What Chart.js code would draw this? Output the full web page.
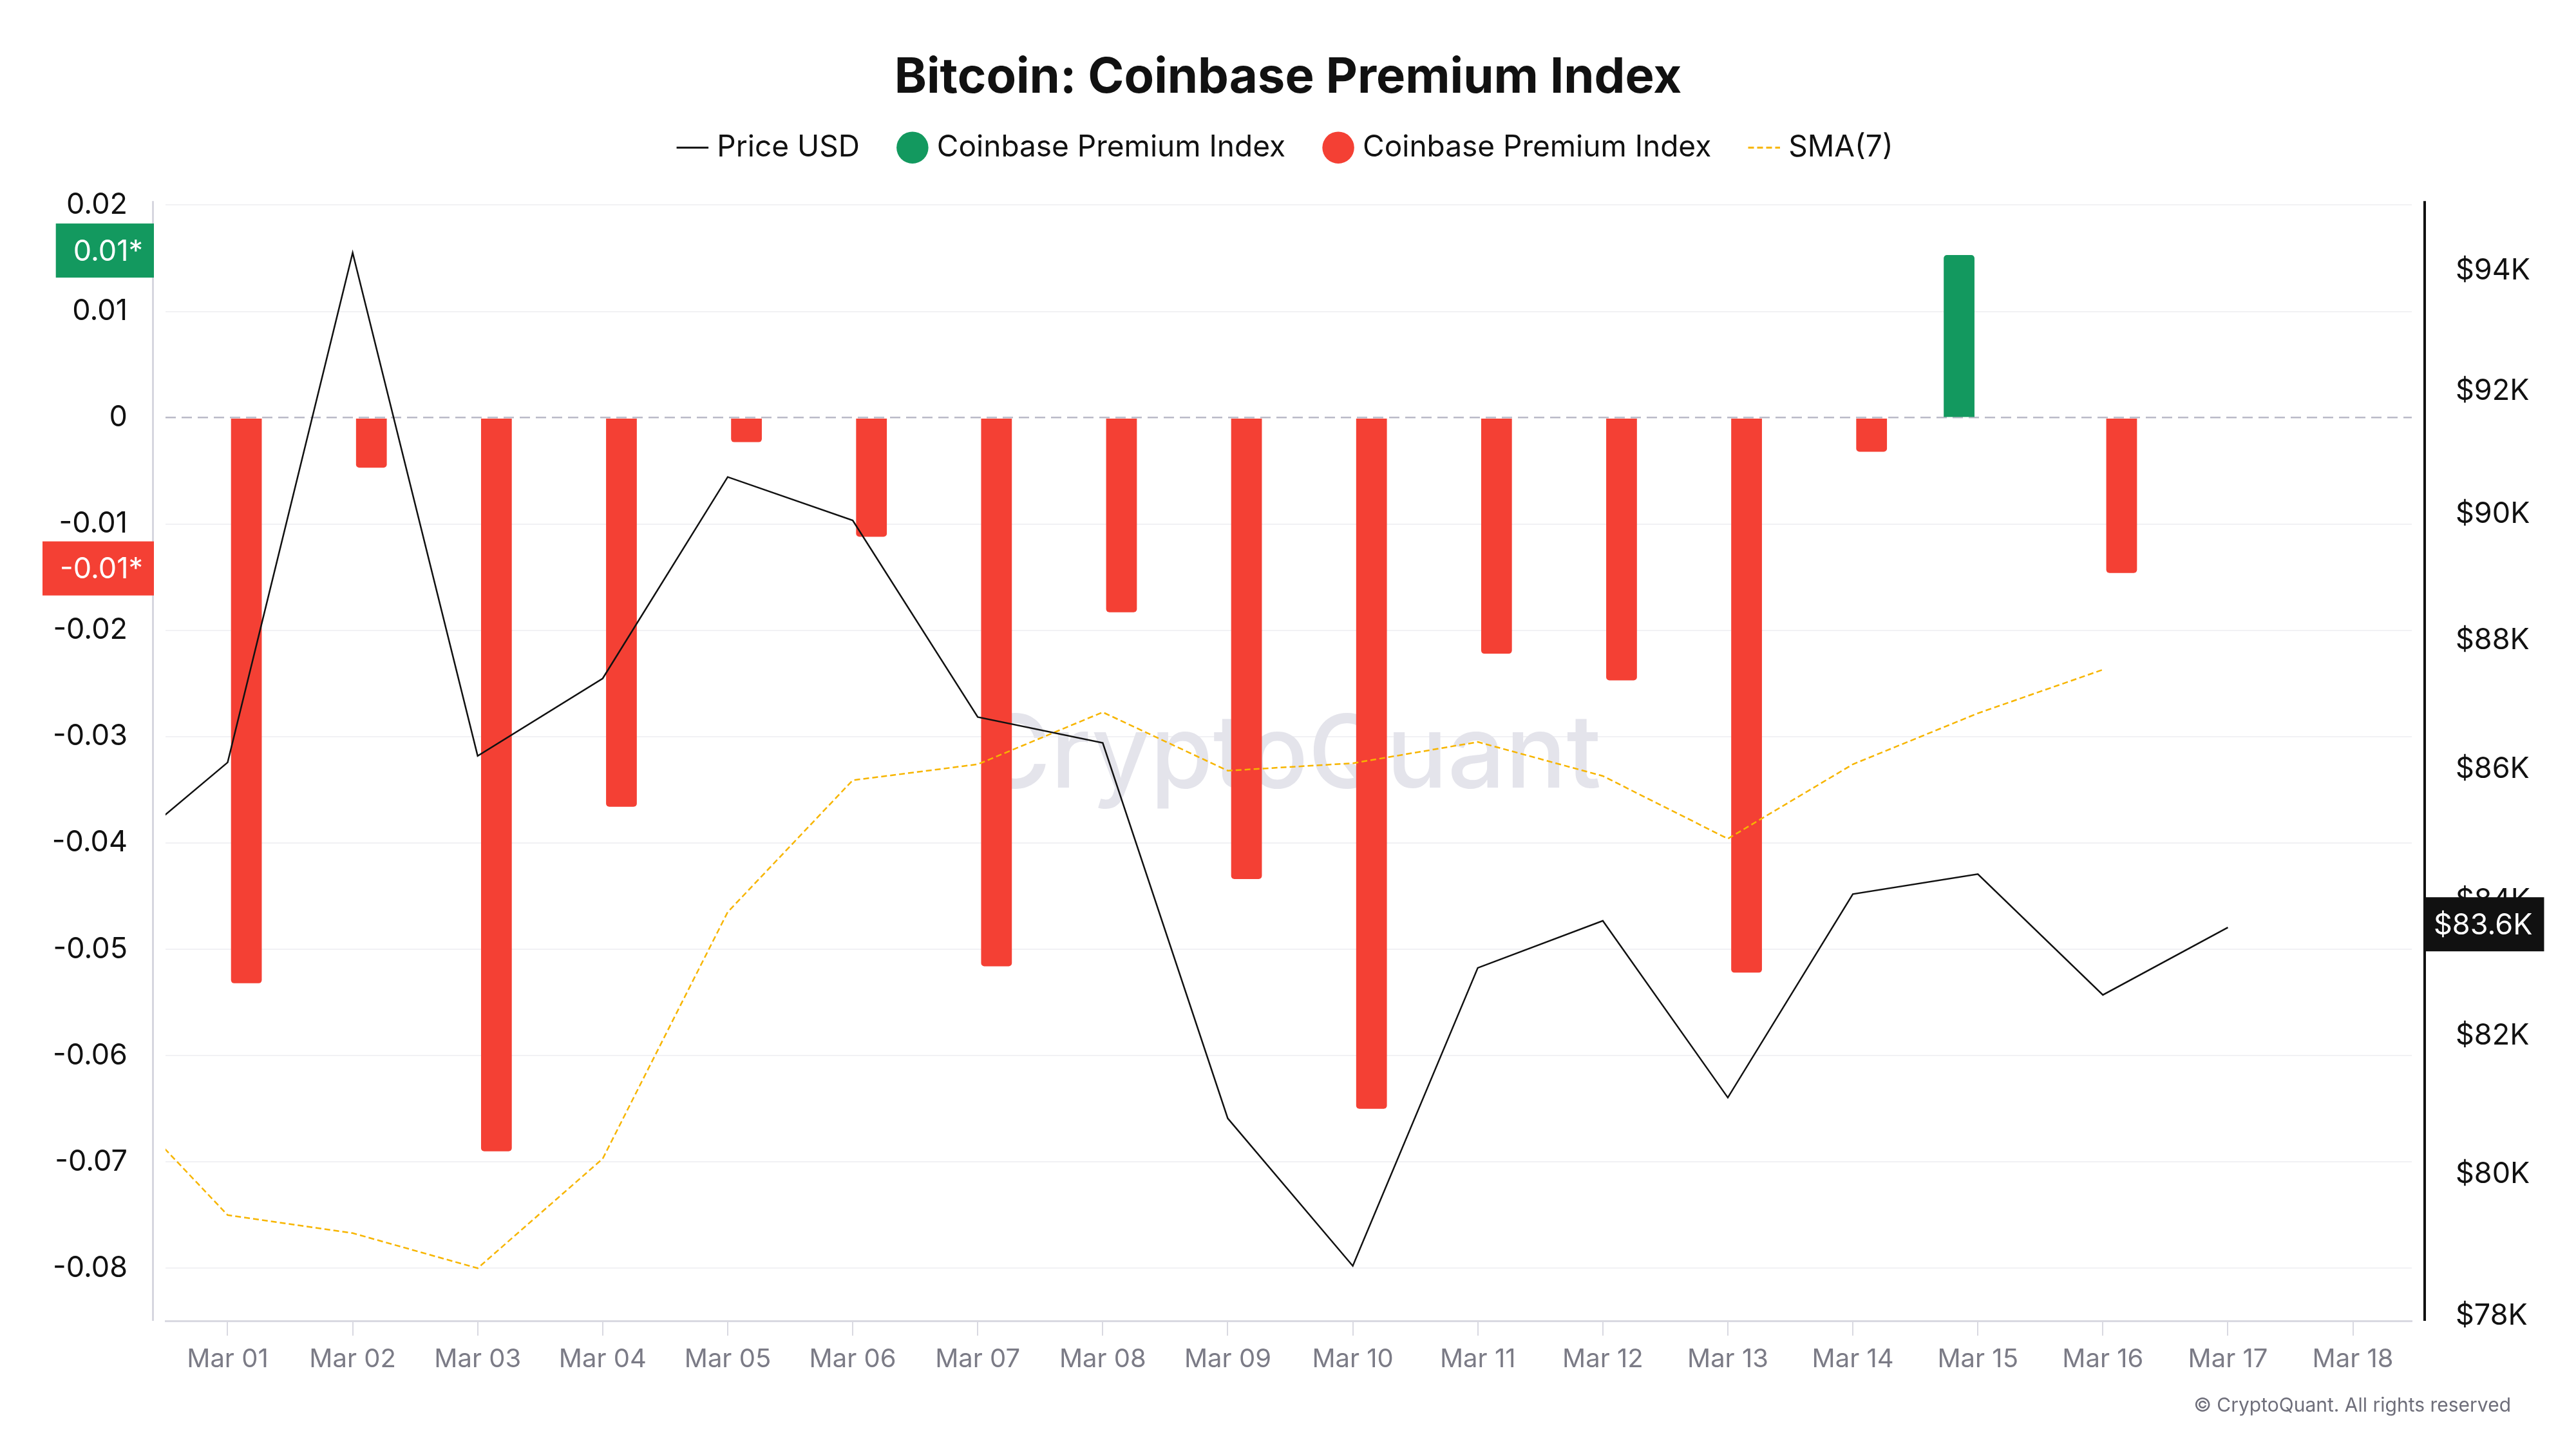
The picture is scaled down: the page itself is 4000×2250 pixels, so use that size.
<!DOCTYPE html>
<html>
<head>
<meta charset="utf-8">
<title>Bitcoin: Coinbase Premium Index</title>
<script src="https://cdn.jsdelivr.net/npm/chart.js@4.4.1/dist/chart.umd.min.js"></script>
<style>
  html, body { margin: 0; padding: 0; background: #fff; }
  #wrap { width: 4000px; height: 2250px; position: relative; }
</style>
</head>
<body>
<div id="wrap"><canvas id="premiumChart"></canvas></div>
<script>
// fechas: indice 0 = Feb 28 (queda fuera del area visible, solo da el arranque de las lineas)
const dates = ['Feb 28', 'Mar 01', 'Mar 02', 'Mar 03', 'Mar 04', 'Mar 05', 'Mar 06', 'Mar 07', 'Mar 08', 'Mar 09',
               'Mar 10', 'Mar 11', 'Mar 12', 'Mar 13', 'Mar 14', 'Mar 15', 'Mar 16', 'Mar 17', 'Mar 18'];

// precio BTC en USD
const priceUsd = [84500, 86100, 94300, 86200, 87400, 90600, 89900, 86800, 86400, 80800,
                  78700, 83000, 83700, 81100, 84100, 84400, 82600, 83600];

// coinbase premium index diario
const premiumIndex = [null, -0.0532, -0.0047, -0.0690, -0.0366, -0.0023, -0.0112, -0.0516, -0.0183, -0.0434,
                      -0.0650, -0.0222, -0.0247, -0.0522, -0.0032, 0.0153, -0.0146];

// media movil de 7 dias del premium
const sma7 = [-0.0626, -0.0750, -0.0767, -0.0800, -0.0697, -0.0465, -0.0341, -0.0326, -0.0277, -0.0332,
              -0.0325, -0.0305, -0.0337, -0.0396, -0.0326, -0.0278, -0.0237];

const leftTicks = [0.02, 0.01, 0, -0.01, -0.02, -0.03, -0.04, -0.05, -0.06, -0.07, -0.08];
const rightTicks = [78000, 80000, 82000, 84000, 86000, 88000, 90000, 92000, 94000];

Chart.defaults.font.family = 'Inter';

const positivos = premiumIndex.map((v, i) => ({ x: i, y: v !== null && v >= 0 ? v : null }));
const negativos = premiumIndex.map((v, i) => ({ x: i, y: v !== null && v < 0 ? v : null }));

const lastOf = arr => arr.filter(p => p.y !== null).slice(-1)[0].y;

// marca de agua, ejes laterales, etiquetas del ultimo valor y copyright
const extras = {
    id: 'extras',
    beforeDatasetsDraw(chart) {
        const { ctx, chartArea } = chart;
        ctx.save();
        ctx.font = '500 158px Inter';
        ctx.fillStyle = '#e4e4eb';
        ctx.textAlign = 'center';
        ctx.textBaseline = 'alphabetic';
        ctx.fillText('CryptoQuant', (chartArea.left + chartArea.right) / 2, 1223);
        ctx.restore();
    },
    afterDraw(chart) {
        const { ctx, chartArea, scales } = chart;
        ctx.save();
        ctx.fillStyle = '#d6d6df';
        ctx.fillRect(chartArea.left - 21, chartArea.top, 3, chartArea.bottom - chartArea.top);
        ctx.fillStyle = '#111111';
        ctx.fillRect(chartArea.right + 18, chartArea.top, 4, chartArea.bottom - chartArea.top);

        ctx.font = '45px Inter';
        ctx.textBaseline = 'middle';
        const fmt = v => (Math.trunc(v * 100) / 100).toFixed(2) + '*';
        const tags = [
            { v: lastOf(positivos), color: '#13995f' },
            { v: lastOf(negativos), color: '#f44034' }
        ];
        tags.forEach(t => {
            const txt = fmt(t.v);
            const y = scales.y.getPixelForValue(t.v) - 7;
            const right = chartArea.left - 18;
            const textRight = chartArea.left - 35;
            const w = ctx.measureText(txt).width;
            ctx.fillStyle = t.color;
            ctx.fillRect(textRight - w - 27, y - 42, right - (textRight - w - 27), 84);
            ctx.fillStyle = '#ffffff';
            ctx.textAlign = 'right';
            ctx.fillText(txt, textRight, y + 2);
        });

        const lastPrice = priceUsd[priceUsd.length - 1];
        const ptxt = '$' + (lastPrice / 1000).toFixed(1) + 'K';
        const py = scales.y1.getPixelForValue(lastPrice) - 5;
        const pw = ctx.measureText(ptxt).width;
        ctx.fillStyle = '#111111';
        ctx.fillRect(chartArea.right + 20, py - 42, pw + 32, 84);
        ctx.fillStyle = '#ffffff';
        ctx.textAlign = 'left';
        ctx.fillText(ptxt, chartArea.right + 34, py + 2);

        ctx.font = '30px Inter';
        ctx.fillStyle = '#6e6e7a';
        ctx.textAlign = 'right';
        ctx.fillText('\u00A9 CryptoQuant. All rights reserved', 3899, 2183);
        ctx.restore();
    }
};

const ctx = document.getElementById('premiumChart').getContext('2d');
new Chart(ctx, {
    data: {
        datasets: [{
            type: 'line',
            label: 'Price USD',
            data: priceUsd.map((v, i) => ({ x: i, y: v })),
            yAxisID: 'y1',
            borderColor: '#111111',
            backgroundColor: '#111111',
            borderWidth: 2.5,
            pointRadius: 0,
            tension: 0,
            order: 0
        }, {
            type: 'bar',
            label: 'Coinbase Premium Index',
            data: positivos,
            yAxisID: 'y',
            backgroundColor: '#13995f',
            borderWidth: 0,
            borderRadius: 5,
            categoryPercentage: 0.6,
            barPercentage: 0.82,
            order: 2
        }, {
            type: 'bar',
            label: 'Coinbase Premium Index',
            data: negativos,
            yAxisID: 'y',
            backgroundColor: '#f44034',
            borderWidth: 0,
            borderRadius: 5,
            categoryPercentage: 0.6,
            barPercentage: 0.82,
            order: 3
        }, {
            type: 'line',
            label: 'SMA(7)',
            data: sma7.map((v, i) => ({ x: i, y: v })),
            yAxisID: 'y',
            borderColor: '#f7b500',
            backgroundColor: '#f7b500',
            borderWidth: 2.5,
            borderDash: [9, 5],
            pointRadius: 0,
            tension: 0,
            order: 1
        }]
    },
    options: {
        responsive: true,
        maintainAspectRatio: false,
        animation: false,
        layout: { padding: 0 },
        plugins: {
            title: {
                display: true,
                text: 'Bitcoin: Coinbase Premium Index',
                color: '#111111',
                font: { size: 76, weight: 'bold' },
                padding: { top: 76, bottom: -28 }
            },
            subtitle: {
                display: true,
                text: '',
                weight: 500,
                font: { size: 10, lineHeight: 1 },
                padding: { top: 0, bottom: 40 }
            },
            legend: {
                display: true,
                position: 'top',
                labels: {
                    usePointStyle: true,
                    boxWidth: 30,
                    boxHeight: 35,
                    padding: 67,
                    color: '#111111',
                    font: { size: 46 },
                    generateLabels: chart => chart.data.datasets.map((ds, i) => ({
                        text: ds.label,
                        datasetIndex: i,
                        hidden: false,
                        fillStyle: ds.backgroundColor,
                        strokeStyle: ds.type === 'line' ? ds.borderColor : ds.backgroundColor,
                        lineWidth: ds.type === 'line' ? 3 : 0,
                        lineDash: ds.borderDash || [],
                        pointStyle: ds.type === 'line' ? 'line' : 'circle',
                        fontColor: '#111111'
                    }))
                }
            },
            tooltip: { enabled: false }
        },
        scales: {
            x: {
                type: 'linear',
                bounds: 'data',
                offset: false,
                min: 0.503,
                max: 18.471,
                afterBuildTicks: s => { s.ticks = dates.map((d, i) => ({ value: i })).filter(t => t.value >= 1); },
                afterFit: s => { s.height = 199; },
                grid: { offset: false, drawOnChartArea: false, drawTicks: true, tickLength: 23, color: '#d9d9e1', lineWidth: 2 },
                border: { display: true, color: '#d9d9e1', width: 3 },
                ticks: {
                    callback: v => dates[v],
                    color: '#7b7b86',
                    font: { size: 40 },
                    padding: 13,
                    maxRotation: 0,
                    autoSkip: false
                }
            },
            y: {
                type: 'linear',
                position: 'left',
                bounds: 'data',
                min: -0.08495,
                max: 0.02038,
                afterBuildTicks: s => { s.ticks = leftTicks.map(v => ({ value: v })); },
                afterFit: s => { s.width = 257; },
                grid: {
                    drawTicks: false,
                    color: c => c.tick && c.tick.value === 0 ? '#babac8' : '#f1f1f4',
                    lineWidth: c => c.tick && c.tick.value === 0 ? 2.5 : 2
                },
                border: { display: false, dash: c => c.tick && c.tick.value === 0 ? [16, 9] : [] },
                ticks: {
                    color: '#111111',
                    font: { size: 45 },
                    padding: 59,
                    callback: v => v === 0 ? '0' : v.toFixed(2)
                }
            },
            y1: {
                type: 'logarithmic',
                position: 'right',
                bounds: 'data',
                min: 77932,
                max: 95174,
                afterBuildTicks: s => { s.ticks = rightTicks.map(v => ({ value: v })); },
                afterFit: s => { s.width = 255; },
                grid: { display: false },
                border: { display: false },
                ticks: {
                    color: '#111111',
                    font: { size: 45 },
                    padding: 60,
                    callback: v => '$' + v / 1000 + 'K'
                }
            }
        }
    },
    plugins: [extras]
});
</script>
</body>
</html>
